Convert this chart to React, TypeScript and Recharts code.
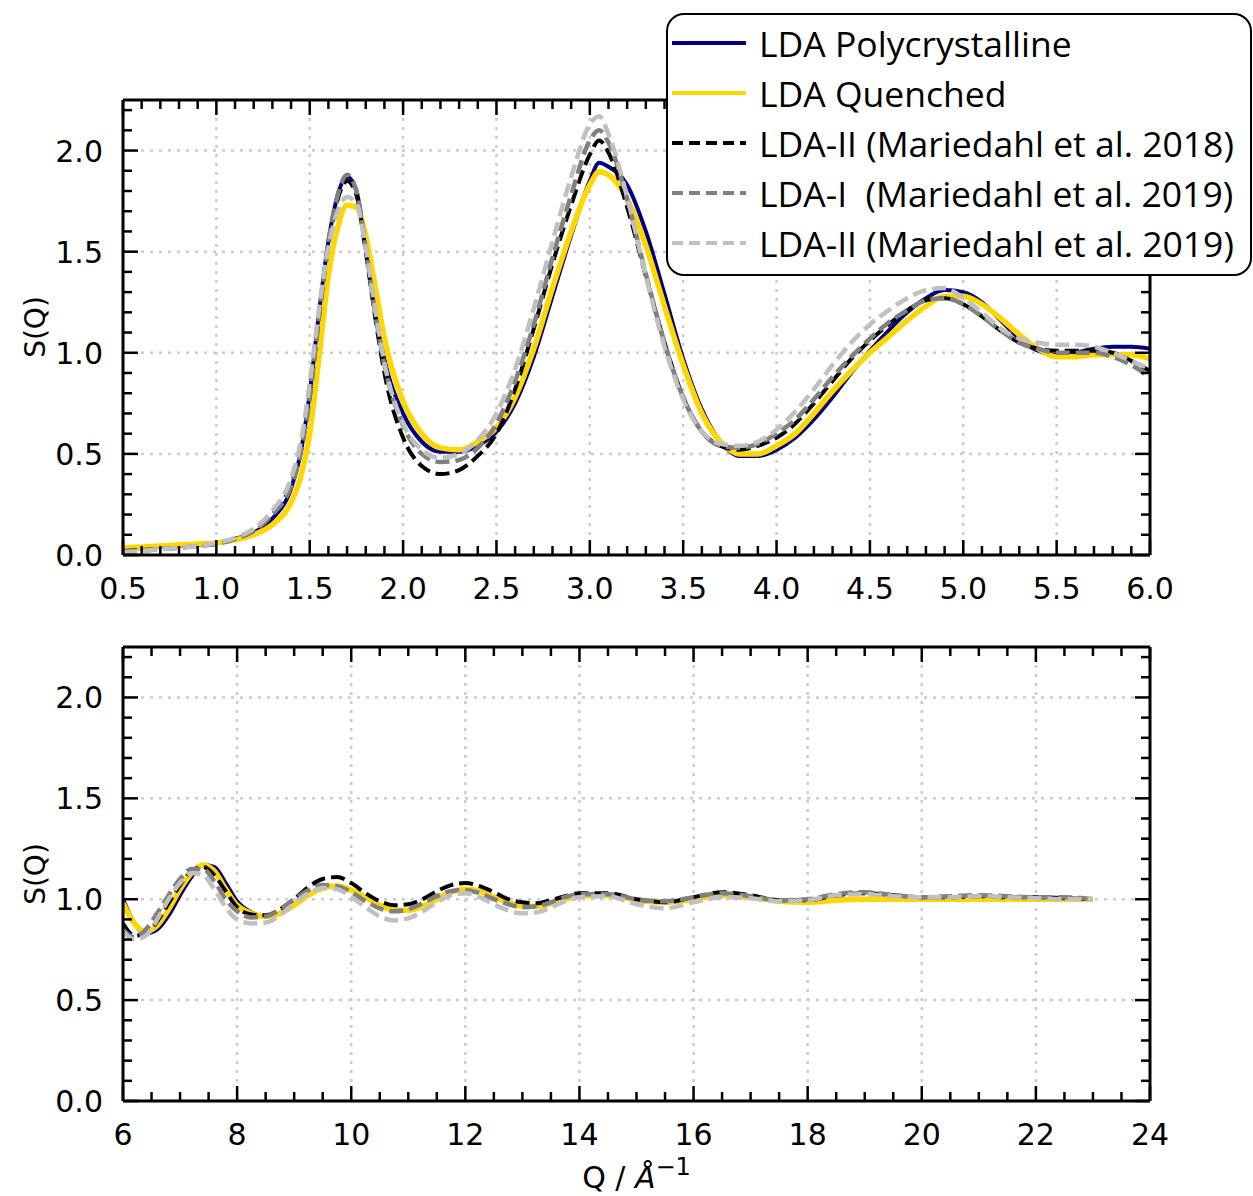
import React from "react";
import { LineChart, Line, XAxis, YAxis, CartesianGrid } from "recharts";

// ---- top panel: Q from 0.5 to 6.0 ----
const qTop = [
  0.5, 0.6, 0.7, 0.8, 0.9, 1.0, 1.1, 1.2, 1.3, 1.4,
  1.45, 1.5, 1.55, 1.6, 1.65, 1.7, 1.75, 1.8, 1.85, 1.9,
  2.0, 2.1, 2.2, 2.3, 2.4, 2.5, 2.6, 2.7, 2.8, 2.9, 3.0,
  3.05,
  3.1, 3.2, 3.3, 3.4, 3.5, 3.6, 3.7, 3.8, 3.9, 4.0,
  4.1, 4.2, 4.3, 4.4, 4.5, 4.6, 4.7, 4.8, 4.9, 5.0,
  5.1, 5.2, 5.3, 5.4, 5.5, 5.6, 5.7, 5.8, 5.9, 6.0,
];
const polyTop = [
  0.03, 0.035, 0.04, 0.045, 0.05, 0.06, 0.08, 0.11, 0.18, 0.33,
  0.5, 0.8, 1.2, 1.55, 1.78, 1.87, 1.8, 1.52, 1.22, 0.97,
  0.7, 0.56, 0.51, 0.51, 0.54, 0.61, 0.75, 0.98, 1.28, 1.58, 1.85,
  1.94,
  1.92, 1.83, 1.6, 1.29, 0.97, 0.72, 0.56, 0.49, 0.49, 0.52,
  0.58, 0.67, 0.78, 0.9, 1.01, 1.11, 1.2, 1.27, 1.31, 1.3,
  1.25, 1.16, 1.07, 1.01, 0.99, 1.0, 1.02, 1.03, 1.03, 1.02,
];
const quenchTop = [
  0.035, 0.04, 0.045, 0.05, 0.055, 0.06, 0.075, 0.1, 0.15, 0.26,
  0.38, 0.6, 0.98, 1.38, 1.62, 1.73, 1.72, 1.58, 1.33, 1.07,
  0.76, 0.6, 0.53, 0.52, 0.56, 0.63, 0.78, 1.02, 1.32, 1.6, 1.83,
  1.895,
  1.88, 1.76, 1.53, 1.23, 0.94, 0.7, 0.56, 0.5, 0.5, 0.54,
  0.6, 0.7, 0.81, 0.91, 1.0, 1.08, 1.16, 1.23, 1.28, 1.28,
  1.24, 1.17, 1.09, 1.02, 0.98, 0.98, 0.99, 0.99, 0.99, 0.97,
];
const ldaII2018Top = [
  0.02, 0.025, 0.03, 0.035, 0.045, 0.055, 0.08, 0.12, 0.2, 0.35,
  0.5, 0.78, 1.18, 1.53, 1.76, 1.85, 1.78, 1.5, 1.18, 0.9,
  0.58, 0.44, 0.4, 0.42, 0.49, 0.6, 0.82, 1.12, 1.44, 1.73, 1.98,
  2.05,
  1.99, 1.72, 1.38, 1.05, 0.78, 0.61, 0.54, 0.52, 0.54, 0.58,
  0.65, 0.75, 0.86, 0.97, 1.06, 1.14, 1.21, 1.26, 1.27, 1.24,
  1.18, 1.11, 1.05, 1.02, 1.01, 1.01, 1.01, 1.0, 0.96, 0.91,
];
const ldaI2019Top = [
  0.015, 0.02, 0.03, 0.035, 0.045, 0.055, 0.08, 0.12, 0.2, 0.34,
  0.5, 0.78, 1.18, 1.55, 1.78, 1.88, 1.8, 1.52, 1.2, 0.94,
  0.64, 0.5, 0.46, 0.47, 0.53, 0.65, 0.86, 1.14, 1.47, 1.78, 2.05,
  2.1,
  2.04, 1.76, 1.39, 1.05, 0.78, 0.61, 0.54, 0.53, 0.55, 0.6,
  0.67, 0.77, 0.88, 0.98, 1.07, 1.15, 1.21, 1.26, 1.27, 1.24,
  1.18, 1.11, 1.05, 1.02, 1.0, 1.0, 1.0, 0.98, 0.94, 0.88,
];
const ldaII2019Top = [
  0.015, 0.02, 0.03, 0.035, 0.045, 0.06, 0.085, 0.13, 0.22, 0.38,
  0.55, 0.85, 1.22, 1.52, 1.7, 1.77, 1.74, 1.52, 1.22, 0.95,
  0.65, 0.52, 0.48, 0.5, 0.57, 0.7, 0.92, 1.22, 1.55, 1.87, 2.13,
  2.17,
  2.08, 1.77, 1.38, 1.03, 0.77, 0.61, 0.55, 0.54, 0.56, 0.62,
  0.71, 0.82, 0.94, 1.05, 1.14, 1.21, 1.27, 1.31, 1.32, 1.27,
  1.2, 1.12, 1.07, 1.05, 1.04, 1.04, 1.03, 1.0, 0.96, 0.92,
];

// ---- bottom panel: Q from 6 to 23 ----
const qBottom = [
  6.0, 6.2, 6.4, 6.6, 6.8, 7.0, 7.2, 7.4, 7.6, 7.8, 8.0,
  8.25, 8.5, 8.75, 9.0, 9.25, 9.5, 9.75, 10.0, 10.25, 10.5, 10.75, 11.0,
  11.25, 11.5, 11.75, 12.0, 12.25, 12.5, 12.75, 13.0, 13.25, 13.5, 13.75, 14.0,
  14.5, 15.0, 15.5, 16.0, 16.5, 17.0, 17.5, 18.0, 18.5, 19.0, 19.5, 20.0,
  20.5, 21.0, 21.5, 22.0, 22.5, 23.0,
];
const polyBottom = [
  1.0, 0.88, 0.83, 0.85, 0.92, 1.02, 1.11, 1.17, 1.16, 1.08, 0.99,
  0.935, 0.915, 0.93, 0.97, 1.02, 1.055, 1.065, 1.045, 1.01, 0.97, 0.945, 0.945,
  0.965, 1.0, 1.035, 1.05, 1.04, 1.01, 0.985, 0.965, 0.965, 0.98, 1.0, 1.015,
  1.02, 0.995, 0.985, 1.0, 1.02, 1.01, 0.99, 0.99, 1.0, 1.0, 1.0, 1.0,
  1.0, 1.0, 1.0, 1.0, 1.0, 1.0,
];
const quenchBottom = [
  0.98, 0.88, 0.84, 0.87, 0.95, 1.05, 1.13, 1.17, 1.14, 1.05, 0.97,
  0.93, 0.915, 0.93, 0.97, 1.02, 1.055, 1.065, 1.045, 1.01, 0.97, 0.945, 0.945,
  0.965, 1.0, 1.035, 1.05, 1.04, 1.01, 0.985, 0.965, 0.965, 0.98, 1.0, 1.015,
  1.02, 0.995, 0.985, 1.0, 1.02, 1.01, 0.99, 0.985, 0.995, 1.0, 1.0, 1.0,
  1.0, 1.0, 1.0, 1.0, 1.0, 1.0,
];
const ldaII2018Bottom = [
  0.88, 0.82, 0.83, 0.89, 0.98, 1.07, 1.14, 1.16, 1.12, 1.04, 0.96,
  0.925, 0.92, 0.95, 1.0, 1.06, 1.1, 1.11, 1.08, 1.03, 0.99, 0.97, 0.975,
  1.0, 1.04, 1.07, 1.08, 1.065, 1.035, 1.0, 0.985, 0.98, 0.995, 1.015, 1.03,
  1.03, 1.0, 0.985, 1.01, 1.035, 1.02, 0.995, 0.995, 1.02, 1.03, 1.02, 1.01,
  1.01, 1.015, 1.01, 1.01, 1.005, 1.0,
];
const ldaI2019Bottom = [
  0.85, 0.81, 0.85, 0.93, 1.02, 1.1, 1.15, 1.15, 1.09, 1.0, 0.94,
  0.91, 0.915, 0.95, 1.0, 1.045, 1.07, 1.065, 1.035, 0.99, 0.955, 0.94, 0.95,
  0.98, 1.015, 1.04, 1.045, 1.03, 1.0, 0.975, 0.96, 0.965, 0.985, 1.01, 1.025,
  1.025, 1.0, 0.99, 1.01, 1.03, 1.015, 0.995, 1.0, 1.025, 1.035, 1.02, 1.01,
  1.015, 1.02, 1.015, 1.01, 1.01, 1.0,
];
const ldaII2019Bottom = [
  0.84, 0.8, 0.82, 0.9, 1.0, 1.08, 1.13, 1.12, 1.05, 0.96, 0.9,
  0.88, 0.885, 0.92, 0.98, 1.03, 1.055, 1.05, 1.01, 0.96, 0.915, 0.895, 0.905,
  0.94, 0.985, 1.02, 1.03, 1.01, 0.975, 0.945, 0.93, 0.935, 0.96, 0.99, 1.01,
  1.015, 0.975, 0.955, 0.985, 1.01, 1.005, 0.99, 0.995, 1.02, 1.025, 1.015, 1.01,
  1.01, 1.015, 1.01, 1.005, 1.0, 1.0,
];

// ---- tick labels ----
const topXMajor = [0.5, 1.0, 1.5, 2.0, 2.5, 3.0, 3.5, 4.0, 4.5, 5.0, 5.5, 6.0];
const bottomXMajor = [6, 8, 10, 12, 14, 16, 18, 20, 22, 24];
const yMajor = [0.0, 0.5, 1.0, 1.5, 2.0];

const series = [
  { key: "poly", name: "LDA Polycrystalline", color: "#000080", width: 4, dash: undefined },
  { key: "quench", name: "LDA Quenched", color: "#FFD700", width: 5.5, dash: undefined },
  { key: "ii2018", name: "LDA-II (Mariedahl et al. 2018)", color: "#000000", width: 4, dash: "14 6" },
  { key: "i2019", name: "LDA-I  (Mariedahl et al. 2019)", color: "#808080", width: 4.5, dash: "14 6" },
  { key: "ii2019", name: "LDA-II (Mariedahl et al. 2019)", color: "#c0c0c0", width: 4.5, dash: "14 6" },
];

const topRows = qTop.map((q, i) => ({
  q,
  poly: polyTop[i],
  quench: quenchTop[i],
  ii2018: ldaII2018Top[i],
  i2019: ldaI2019Top[i],
  ii2019: ldaII2019Top[i],
}));
const bottomRows = qBottom.map((q, i) => ({
  q,
  poly: polyBottom[i],
  quench: quenchBottom[i],
  ii2018: ldaII2018Bottom[i],
  i2019: ldaI2019Bottom[i],
  ii2019: ldaII2019Bottom[i],
}));

const steps = (start: number, end: number, step: number) =>
  Array.from({ length: Math.round((end - start) / step) + 1 }, (_, i) => +(start + i * step).toFixed(3));

const topXTicks = steps(0.5, 6.0, 0.1);
const bottomXTicks = steps(6, 24, 0.5);
const yTicks = steps(0, 2.2, 0.1);

const isMajor = (v: number, majors: number[]) => majors.some((m) => Math.abs(m - v) < 1e-6);

const FONT = "'DejaVu Sans', sans-serif";
const W = 1253;
const PLOT_RIGHT = 1150;
const PLOT_LEFT = 123;

function xTick(majors: number[], side: "bottom" | "top", fmt?: (v: number) => string) {
  return (props: any) => {
    const { x, y, payload } = props;
    const major = isMajor(payload.value, majors);
    const len = major ? 15 : 9;
    const dir = side === "bottom" ? -1 : 1;
    return (
      <g>
        <line x1={x} y1={y} x2={x} y2={y + dir * len} stroke="#000" strokeWidth={2.5} />
        {fmt && major ? (
          <text x={x} y={y + 44} textAnchor="middle" fontFamily={FONT} fontSize={30} fill="#000">
            {fmt(payload.value)}
          </text>
        ) : null}
      </g>
    );
  };
}

function yTick(side: "left" | "right") {
  return (props: any) => {
    const { x, y, payload } = props;
    const major = isMajor(payload.value, yMajor);
    const len = major ? 15 : 9;
    const dir = side === "left" ? 1 : -1;
    return (
      <g>
        <line x1={x} y1={y} x2={x + dir * len} y2={y} stroke="#000" strokeWidth={2.5} />
        {side === "left" && major ? (
          <text x={x - 20} y={y + 11} textAnchor="end" fontFamily={FONT} fontSize={30} fill="#000">
            {payload.value.toFixed(1)}
          </text>
        ) : null}
      </g>
    );
  };
}

const SQLabel = ({ cx, cy }: { cx: number; cy: number }) => (
  <text
    x={cx}
    y={cy}
    transform={`rotate(-90 ${cx} ${cy})`}
    textAnchor="middle"
    dominantBaseline="central"
    fontFamily={FONT}
    fontSize={28}
    fill="#000"
  >
    S(Q)
  </text>
);

const QLabel = () => (
  <text x={(PLOT_LEFT + PLOT_RIGHT) / 2} y={568} textAnchor="middle" fontFamily={FONT} fontSize={30} fill="#000">
    <tspan>Q / </tspan>
    <tspan fontStyle="italic">Å</tspan>
    <tspan dy={-13} fontSize={24}>−1</tspan>
  </text>
);

// axes need a non-zero size or recharts skips drawing them
const AX = 1;

function Panel({
  rows,
  height,
  top,
  bottom,
  xDomain,
  xTicks,
  xMajor,
  fmtX,
  sqY,
  qLabel,
}: {
  rows: any[];
  height: number;
  top: number;
  bottom: number;
  xDomain: [number, number];
  xTicks: number[];
  xMajor: number[];
  fmtX: (v: number) => string;
  sqY: number;
  qLabel?: boolean;
}) {
  return (
    <LineChart
      width={W}
      height={height}
      data={rows}
      margin={{ top: top - AX, bottom: bottom - AX, left: PLOT_LEFT - AX, right: W - PLOT_RIGHT - AX }}
    >
      <CartesianGrid
        xAxisId="b"
        yAxisId="l"
        horizontalValues={[0.5, 1.0, 1.5, 2.0]}
        verticalValues={xMajor.slice(1, -1)}
        stroke="#cccccc"
        strokeWidth={2.5}
        strokeDasharray="3 6"
      />
      {series.map((s) => (
        <Line
          key={s.key}
          xAxisId="b"
          yAxisId="l"
          dataKey={s.key}
          name={s.name}
          type="monotone"
          stroke={s.color}
          strokeWidth={s.width}
          strokeDasharray={s.dash}
          dot={false}
          activeDot={false}
          isAnimationActive={false}
        />
      ))}
      <XAxis
        xAxisId="b"
        dataKey="q"
        type="number"
        domain={xDomain}
        ticks={xTicks}
        interval={0}
        height={AX}
        tickSize={0}
        tickMargin={0}
        allowDataOverflow
        axisLine={{ stroke: "#000", strokeWidth: 3 }}
        tickLine={false}
        tick={xTick(xMajor, "bottom", fmtX)}
        label={qLabel ? <QLabel /> : undefined}
      />
      <XAxis
        xAxisId="t"
        orientation="top"
        dataKey="q"
        type="number"
        domain={xDomain}
        ticks={xTicks}
        interval={0}
        height={AX}
        tickSize={0}
        tickMargin={0}
        allowDataOverflow
        axisLine={{ stroke: "#000", strokeWidth: 3 }}
        tickLine={false}
        tick={xTick(xMajor, "top")}
      />
      <YAxis
        yAxisId="l"
        type="number"
        domain={[0, 2.25]}
        ticks={yTicks}
        interval={0}
        width={AX}
        tickSize={0}
        tickMargin={0}
        allowDataOverflow
        axisLine={{ stroke: "#000", strokeWidth: 3 }}
        tickLine={false}
        tick={yTick("left")}
        label={<SQLabel cx={35} cy={sqY} />}
      />
      <YAxis
        yAxisId="r"
        orientation="right"
        type="number"
        domain={[0, 2.25]}
        ticks={yTicks}
        interval={0}
        width={AX}
        tickSize={0}
        tickMargin={0}
        allowDataOverflow
        axisLine={{ stroke: "#000", strokeWidth: 3 }}
        tickLine={false}
        tick={yTick("right")}
      />
    </LineChart>
  );
}

function LegendBox() {
  return (
    <div
      style={{
        position: "absolute",
        left: 666,
        top: 13,
        width: 586,
        height: 263,
        boxSizing: "border-box",
        border: "2.5px solid #000",
        borderRadius: 18,
        background: "#fff",
        paddingTop: 3,
      }}
    >
      {series.map((s) => (
        <div key={s.key} style={{ display: "flex", alignItems: "center", height: 50 }}>
          <svg width={91} height={12} style={{ flex: "none" }}>
            <line
              x1={4}
              y1={6}
              x2={78}
              y2={6}
              stroke={s.color}
              strokeWidth={4}
              strokeDasharray={s.dash ? "11 6" : undefined}
            />
          </svg>
          <span
            style={{
              fontFamily: "'Open Sans', 'Noto Sans', sans-serif",
              fontSize: 35.5,
              color: "#000",
              whiteSpace: "pre",
              lineHeight: "50px",
            }}
          >
            {s.name}
          </span>
        </div>
      ))}
    </div>
  );
}

export default function App() {
  return (
    <div style={{ position: "absolute", left: 0, top: 0, width: W, height: 1196, background: "#fff" }}>
      <div style={{ position: "absolute", left: 0, top: 0 }}>
        <Panel
          rows={topRows}
          height={620}
          top={100}
          bottom={65}
          xDomain={[0.5, 6.0]}
          xTicks={topXTicks}
          xMajor={topXMajor}
          fmtX={(v) => v.toFixed(1)}
          sqY={327}
        />
      </div>
      <div style={{ position: "absolute", left: 0, top: 620 }}>
        <Panel
          rows={bottomRows}
          height={576}
          top={27}
          bottom={95}
          xDomain={[6, 24]}
          xTicks={bottomXTicks}
          xMajor={bottomXMajor}
          fmtX={(v) => String(v)}
          sqY={254}
          qLabel
        />
      </div>
      <LegendBox />
    </div>
  );
}
